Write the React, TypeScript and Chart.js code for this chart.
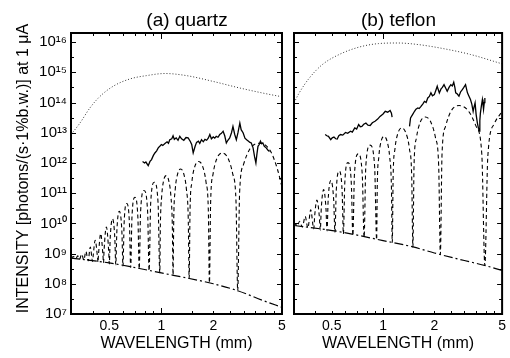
import React, { useEffect, useRef } from "react";
import { Chart, registerables } from "chart.js";

Chart.register(...registerables);

const FONT = "'Liberation Sans', Arial, Helvetica, sans-serif";

// ---- axes ----
const X_MIN = 0.3;
const X_MAX = 5;
const Y_MIN = 1e7;
const Y_MAX = 2e16;
const xTickValues = [0.5, 1, 2, 5];
const xMinorTicks = [0.4, 0.5, 0.6, 0.7, 0.8, 0.9, 1.5, 2, 2.5, 3, 3.5, 4, 4.5];
const xMajorTicks = [1];
const yDecadeExponents = [7, 8, 9, 10, 11, 12, 13, 14, 15, 16];

const panelTitles = ["(a) quartz", "(b) teflon"];
const xAxisTitle = "WAVELENGTH (mm)";
const yAxisTitle = "INTENSITY [photons/(s\u00b71%b.w.)] at 1 \u03bcA";

// ---- data: [wavelength (mm), log10 intensity] ----
// (a) quartz
const quartzSpectrum = [
  [0.3, 12.94], [0.338, 13.32], [0.386, 13.82], [0.441, 14.2], [0.527, 14.54], [0.658, 14.78],
  [0.82, 14.89], [1.05, 14.96], [1.4, 14.89], [1.99, 14.7], [2.85, 14.48], [4.05, 14.29], [5.0, 14.19],
];
const quartzMeasured = [
  [0.779, 12.05], [0.8, 12.0], [0.814, 12.03], [0.84, 11.91], [0.86, 12.05], [0.878, 12.11], [0.9, 12.25],
  [0.918, 12.33], [0.94, 12.4], [0.96, 12.5], [0.98, 12.55], [1.0, 12.61], [1.02, 12.58], [1.05, 12.64],
  [1.08, 12.7], [1.1, 12.65], [1.12, 12.77], [1.15, 12.8], [1.17, 12.9], [1.19, 12.78], [1.22, 12.83],
  [1.25, 12.75], [1.28, 12.88], [1.31, 12.8], [1.35, 12.75], [1.39, 12.84], [1.43, 12.83], [1.47, 12.72],
  [1.5, 12.61], [1.53, 12.33], [1.57, 12.55], [1.6, 12.68], [1.64, 12.72], [1.67, 12.65], [1.71, 12.77],
  [1.75, 12.7], [1.79, 12.78], [1.83, 12.75], [1.87, 12.82], [1.91, 12.94], [1.95, 12.8], [2.0, 12.86],
  [2.04, 12.82], [2.08, 12.88], [2.13, 12.85], [2.18, 12.94], [2.23, 12.98], [2.28, 13.05], [2.33, 12.9],
  [2.38, 12.66], [2.43, 12.75], [2.49, 12.83], [2.55, 13.0], [2.6, 13.21], [2.66, 12.95], [2.72, 12.77],
  [2.78, 13.0], [2.85, 13.32], [2.9, 13.1], [2.98, 12.99], [3.05, 12.82], [3.12, 12.77], [3.2, 12.72],
  [3.26, 12.68], [3.32, 12.66], [3.4, 12.5], [3.47, 12.2], [3.53, 12.0], [3.58, 12.3], [3.63, 12.55],
  [3.69, 12.61], [3.75, 12.72], [3.81, 12.64], [3.87, 12.66], [3.95, 12.55], [4.05, 12.5], [4.15, 12.42],
  [4.23, 12.38],
];
const quartzCalc = [
  [0.3, 8.85], [0.31, 8.9],
  [0.32, 8.83], [0.328, 8.93],
  [0.336, 8.81], [0.346, 8.98],
  [0.356, 8.79], [0.366, 9.07],
  [0.377, 8.76], [0.388, 9.22],
  [0.4, 8.74], [0.403, 8.91], [0.414, 9.44], [0.427, 8.89],
  [0.43, 8.71], [0.433, 8.98], [0.446, 9.66], [0.459, 8.97],
  [0.463, 8.69], [0.466, 9.08], [0.481, 9.88], [0.496, 9.07],
  [0.5, 8.66], [0.506, 9.52], [0.522, 10.15], [0.538, 9.52],
  [0.545, 8.63], [0.553, 9.75], [0.571, 10.4], [0.591, 9.75],
  [0.6, 8.59], [0.609, 9.99], [0.631, 10.66], [0.654, 9.99],
  [0.665, 8.54], [0.676, 10.18], [0.703, 10.86], [0.732, 10.18],
  [0.745, 8.49], [0.759, 10.4], [0.794, 11.09], [0.833, 10.4],
  [0.85, 8.43], [0.868, 10.67], [0.911, 11.36], [0.958, 10.67],
  [0.98, 8.37], [0.988, 9.98], [1.005, 10.89], [1.03, 11.4], [1.067, 11.58], [1.106, 11.4], [1.137, 10.89], [1.158, 9.98],
  [1.17, 8.29], [1.181, 10.19], [1.204, 11.11], [1.241, 11.62], [1.295, 11.8], [1.352, 11.62], [1.399, 11.11], [1.432, 10.19],
  [1.45, 8.18], [1.467, 10.44], [1.503, 11.36], [1.561, 11.87], [1.645, 12.05], [1.739, 11.87], [1.816, 11.36], [1.872, 10.44],
  [1.9, 8.03], [1.931, 10.72], [1.995, 11.64], [2.099, 12.15], [2.25, 12.33], [2.436, 12.15], [2.592, 11.64], [2.708, 10.72],
  [2.77, 7.77], [2.842, 11.04], [2.997, 11.96], [3.264, 12.47], [3.7, 12.65], [4.28, 12.4], [4.7, 11.8], [5.0, 11.2],
];
const quartzIncoherent = [
  [0.3, 8.85], [0.5, 8.69], [1.0, 8.36], [2.0, 8.0], [2.77, 7.77], [3.87, 7.45], [5.0, 7.22],
];

// (b) teflon
const teflonSpectrum = [
  [0.3, 13.99], [0.322, 14.32], [0.369, 14.81], [0.441, 15.26], [0.553, 15.59], [0.719, 15.83],
  [0.939, 15.95], [1.22, 15.97], [1.6, 15.92], [2.28, 15.78], [3.26, 15.59], [5.0, 15.28],
];
const teflonMeasuredShort = [
  [0.457, 12.94], [0.468, 12.9], [0.478, 12.88], [0.493, 12.77], [0.503, 12.83], [0.515, 12.86],
  [0.527, 12.8], [0.538, 12.79], [0.55, 12.9], [0.563, 12.94], [0.58, 12.92], [0.602, 13.01],
  [0.62, 12.98], [0.644, 13.05], [0.66, 13.02], [0.682, 13.16], [0.7, 13.12], [0.719, 13.27],
  [0.735, 13.2], [0.751, 13.21], [0.77, 13.28], [0.793, 13.32], [0.815, 13.25], [0.84, 13.24],
  [0.865, 13.33], [0.897, 13.38], [0.93, 13.45], [0.96, 13.54], [1.0, 13.62], [1.03, 13.71],
  [1.065, 13.68], [1.1, 13.74], [1.12, 13.65], [1.13, 13.52],
];
const teflonMeasuredLong = [
  [1.43, 13.21], [1.45, 13.49], [1.49, 13.6], [1.53, 13.71], [1.56, 13.78], [1.6, 13.82], [1.63, 13.8],
  [1.67, 13.87], [1.71, 13.95], [1.75, 14.04], [1.79, 14.0], [1.83, 14.15], [1.87, 14.2], [1.91, 14.32],
  [1.95, 14.22], [2.0, 14.26], [2.04, 14.4], [2.08, 14.54], [2.11, 14.42], [2.14, 14.32], [2.17, 14.4],
  [2.19, 14.45], [2.23, 14.5], [2.28, 14.59], [2.33, 14.48], [2.38, 14.37], [2.44, 14.5], [2.5, 14.59],
  [2.55, 14.55], [2.6, 14.67], [2.64, 14.5], [2.67, 14.32], [2.73, 14.28], [2.79, 14.21], [2.85, 14.35],
  [2.92, 14.43], [2.98, 14.5], [3.05, 14.59], [3.09, 14.45], [3.13, 14.32], [3.2, 14.2], [3.26, 14.1],
  [3.32, 13.95], [3.38, 13.71], [3.42, 13.85], [3.47, 13.99], [3.52, 13.6], [3.58, 13.32], [3.63, 13.15],
  [3.67, 13.05], [3.7, 13.4], [3.73, 13.66], [3.78, 13.9], [3.83, 14.1], [3.86, 13.95], [3.89, 13.77],
  [3.93, 14.0], [3.96, 14.15],
];
const teflonCalc = [
  [0.3, 9.93], [0.306, 9.98],
  [0.313, 9.91], [0.324, 10.07],
  [0.336, 9.88], [0.349, 10.23],
  [0.362, 9.85], [0.376, 10.45],
  [0.392, 9.82], [0.397, 10.27], [0.409, 10.77], [0.422, 10.26],
  [0.428, 9.78], [0.434, 10.52], [0.448, 11.12], [0.462, 10.51],
  [0.469, 9.75], [0.476, 10.77], [0.494, 11.42], [0.513, 10.77],
  [0.522, 9.7], [0.531, 11.06], [0.552, 11.73], [0.575, 11.06],
  [0.585, 9.65], [0.596, 11.33], [0.622, 12.01], [0.651, 11.33],
  [0.665, 9.6], [0.679, 11.61], [0.715, 12.3], [0.755, 11.61],
  [0.774, 9.53], [0.792, 11.9], [0.84, 12.59], [0.892, 11.9],
  [0.917, 9.46], [0.925, 11.28], [0.944, 12.19], [0.972, 12.7], [1.013, 12.88], [1.058, 12.7], [1.094, 12.19], [1.119, 11.28],
  [1.133, 9.37], [1.146, 11.55], [1.175, 12.47], [1.222, 12.98], [1.289, 13.16], [1.364, 12.98], [1.428, 12.47], [1.473, 11.55],
  [1.497, 9.22], [1.52, 11.91], [1.57, 12.83], [1.65, 13.34], [1.771, 13.52], [1.912, 13.34], [2.032, 12.83], [2.121, 11.91],
  [2.17, 8.98], [2.219, 12.29], [2.327, 13.21], [2.509, 13.72], [2.8, 13.9], [3.17, 13.72], [3.52, 13.21], [3.8, 12.29],
  [3.96, 8.61], [4.12, 12.2], [4.5, 13.3], [5.0, 13.7],
];
const teflonIncoherent = [
  [0.3, 9.93], [0.534, 9.74], [1.0, 9.43], [1.5, 9.22], [2.0, 9.02], [3.0, 8.77], [4.0, 8.6], [5.0, 8.44],
];

// ---- helpers ----
const SUP = "\u2070\u00b9\u00b2\u00b3\u2074\u2075\u2076\u2077\u2078\u2079";
const sup = (n: number) => String(n).split("").map((c) => SUP[Number(c)]).join("");
const toPts = (arr: number[][]) => arr.map(([x, e]) => ({ x, y: Math.pow(10, e) }));

const styles = {
  spectrum: { borderDash: [1, 2], borderWidth: 1, borderColor: "#333" },
  measured: { borderDash: [], borderWidth: 1.3, borderColor: "#000" },
  calc: { borderDash: [4, 3], borderWidth: 1.1, borderColor: "#000" },
  incoherent: { borderDash: [9, 3, 2, 3], borderWidth: 1.2, borderColor: "#000" },
};

function line(pts: number[][], style: any, smooth: boolean) {
  return {
    data: toPts(pts),
    ...style,
    pointRadius: 0,
    fill: false,
    tension: smooth ? 0.4 : 0,
    cubicInterpolationMode: smooth ? "monotone" : "default",
  };
}

function decor(title: string, titleCx: number, drawYTitle: boolean) {
  return {
    id: "decor",
    afterDatasetsDraw(chart: any) {
      const { ctx, chartArea: a, scales } = chart;
      const xs = scales.x;
      const ys = scales.y;
      ctx.save();
      ctx.strokeStyle = "#000";
      ctx.lineWidth = 1;
      ctx.beginPath();
      for (const e of yDecadeExponents) {
        const py = Math.round(ys.getPixelForValue(Math.pow(10, e))) + 0.5;
        ctx.moveTo(a.left, py); ctx.lineTo(a.left + 5, py);
        ctx.moveTo(a.right, py); ctx.lineTo(a.right - 5, py);
        const pm = Math.round(ys.getPixelForValue(Math.pow(10, e + 0.5))) + 0.5;
        if (pm > a.top + 2) {
          ctx.moveTo(a.left, pm); ctx.lineTo(a.left + 3, pm);
          ctx.moveTo(a.right, pm); ctx.lineTo(a.right - 3, pm);
        }
      }
      for (const v of xMinorTicks) {
        const px = Math.round(xs.getPixelForValue(v)) + 0.5;
        ctx.moveTo(px, a.bottom); ctx.lineTo(px, a.bottom - 3);
        ctx.moveTo(px, a.top); ctx.lineTo(px, a.top + 3);
      }
      for (const v of xMajorTicks) {
        const px = Math.round(xs.getPixelForValue(v)) + 0.5;
        ctx.moveTo(px, a.bottom); ctx.lineTo(px, a.bottom - 6);
        ctx.moveTo(px, a.top); ctx.lineTo(px, a.top + 6);
      }
      ctx.stroke();
      ctx.lineWidth = 2;
      ctx.strokeRect(a.left, a.top, a.right - a.left, a.bottom - a.top);

      ctx.fillStyle = "#000";
      ctx.textAlign = "center";
      ctx.textBaseline = "alphabetic";
      ctx.font = `19px ${FONT}`;
      ctx.fillText(title, titleCx, 26);
      if (drawYTitle) {
        ctx.translate(28, 168.5);
        ctx.rotate(-Math.PI / 2);
        ctx.font = `16px ${FONT}`;
        ctx.fillText(yAxisTitle, 0, 0);
      }
      ctx.restore();
    },
  };
}

function makeConfig(panel: number) {
  const isA = panel === 0;
  const datasets = isA
    ? [
        line(quartzMeasured, styles.measured, false),
        line(quartzSpectrum, styles.spectrum, true),
        line(quartzCalc, styles.calc, true),
        line(quartzIncoherent, styles.incoherent, true),
      ]
    : [
        line(teflonMeasuredShort, styles.measured, false),
        line(teflonMeasuredLong, styles.measured, false),
        line(teflonSpectrum, styles.spectrum, true),
        line(teflonCalc, styles.calc, true),
        line(teflonIncoherent, styles.incoherent, true),
      ];
  return {
    type: "line",
    data: { datasets },
    options: {
      animation: false,
      responsive: false,
      maintainAspectRatio: false,
      layout: { padding: isA ? { left: 0, right: 8, top: 33, bottom: 0 } : { left: 0, right: 5, top: 33, bottom: 0 } },
      plugins: { legend: { display: false }, tooltip: { enabled: false }, title: { display: false } },
      scales: {
        x: {
          type: "logarithmic",
          min: X_MIN,
          max: X_MAX,
          grid: { display: false, drawTicks: false, tickLength: 0 },
          border: { display: false },
          afterBuildTicks: (s: any) => {
            s.ticks = xTickValues.map((v) => ({ value: v }));
          },
          afterFit: (s: any) => {
            s.height = 44;
          },
          ticks: {
            autoSkip: false,
            maxRotation: 0,
            padding: 4,
            color: "#000",
            font: { family: FONT, size: 14 },
            callback: (v: any) => String(v),
          },
          title: {
            display: true,
            text: xAxisTitle,
            color: "#000",
            font: { family: FONT, size: 16 },
            padding: { top: 0, bottom: 5 },
          },
        },
        y: {
          type: "logarithmic",
          min: Y_MIN,
          max: Y_MAX,
          grid: { display: false, drawTicks: false, tickLength: 0 },
          border: { display: false },
          afterBuildTicks: (s: any) => {
            s.ticks = yDecadeExponents.map((e) => ({ value: Math.pow(10, e) }));
          },
          afterFit: (s: any) => {
            s.width = isA ? 71 : 10;
          },
          ticks: {
            display: isA,
            autoSkip: false,
            padding: 4,
            color: "#000",
            font: { family: FONT, size: 15 },
            callback: (v: any) => "10" + sup(Math.round(Math.log10(v))),
          },
        },
      },
    },
    plugins: [decor(panelTitles[panel], isA ? 187 : 114.5, isA)],
  };
}

export default function App() {
  const refA = useRef<HTMLCanvasElement>(null);
  const refB = useRef<HTMLCanvasElement>(null);
  useEffect(() => {
    const a = new Chart(refA.current as any, makeConfig(0) as any);
    const b = new Chart(refB.current as any, makeConfig(1) as any);
    return () => {
      a.destroy();
      b.destroy();
    };
  }, []);
  return (
    <div style={{ position: "absolute", left: 0, top: 0, width: 510, height: 358, background: "#fff" }}>
      <canvas ref={refA} width={290} height={358} style={{ position: "absolute", left: 0, top: 0, width: 290, height: 358 }} />
      <canvas ref={refB} width={226} height={358} style={{ position: "absolute", left: 284, top: 0, width: 226, height: 358 }} />
    </div>
  );
}
